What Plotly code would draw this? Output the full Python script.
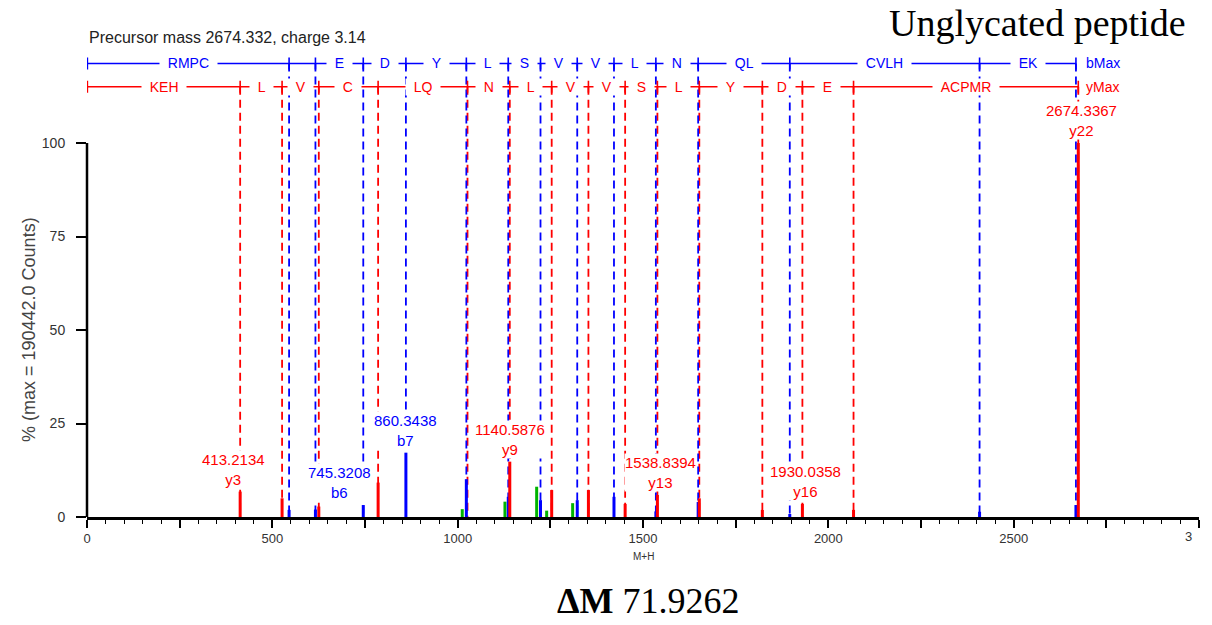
import plotly.graph_objects as go

# ---- fragment ladders (m/z boundaries, residues between consecutive boundaries)
b_mz = [1.0, 545.2, 616.3, 745.3208, 860.3438, 1023.4, 1136.5, 1223.5, 1322.6,
        1421.7, 1534.7, 1648.8, 1896.0, 2408.0, 2668.0]
b_res = ["RMPC", "", "E", "D", "Y", "L", "S", "V", "V", "L", "N", "QL", "CVLH", "EK"]

y_mz = [1.0, 413.2134, 526.29, 625.36, 785.39, 1026.53, 1140.5876, 1253.67, 1352.74,
        1451.81, 1538.8394, 1651.92, 1822.0, 1930.0358, 2068.0, 2674.3367]
y_res = ["KEH", "L", "V", "C", "LQ", "N", "L", "V", "V", "S", "L", "Y", "D", "E", "ACPMR"]

# ---- observed peaks (% of max = 190442.0 counts)
b_peak_mz = [545.2, 616.3, 745.3208, 860.3438, 1023.4, 1136.5, 1223.5, 1322.6,
             1421.7, 1534.7, 1648.8, 1896.0, 2408.0, 2668.0]
b_peak_int = [1.9, 2.0, 3.2, 17.2, 10.1, 5.4, 4.5, 4.5, 5.4, 1.5, 4.0, 0.8, 1.4, 3.2]

y_peak_mz = [413.2134, 526.29, 625.36, 785.39, 1140.5876, 1253.67, 1352.74, 1451.81,
             1538.8394, 1651.92, 1822.0, 1930.0358, 2068.0, 2674.3367]
y_peak_int = [6.8, 5.0, 2.8, 9.2, 14.8, 7.2, 7.2, 3.5, 5.9, 5.0, 1.9, 3.5, 1.9, 100.0]

other_mz = [1012.4, 1127.6, 1213.1, 1240.1, 1310.2]
other_int = [2.1, 4.1, 8.1, 1.7, 3.7]

# ---- annotated peaks: (m/z, ion name, horizontal label offset in px)
lab_mz = [413.2134, 745.3208, 860.3438, 1140.5876, 1538.8394, 1930.0358, 2674.3367]
lab_ion = ["y3", "b6", "b7", "y9", "y13", "y16", "y22"]
lab_dx = [-7, -24, 0, 0, 3, 3, 3]

x_ticks = list(range(0, 3001, 250))
y_ticks = [0, 25, 50, 75, 100]

BLUE = "#0000ff"
RED = "#ff0000"
GREEN = "#00b400"
FONT = "Liberation Sans, Arial, sans-serif"
SERIF = "Liberation Serif, Times New Roman, serif"

Y_TOP = 127.54      # axis headroom for the ladders above 100 %
B_ROW = 121.26
Y_ROW = 115.05
TICK_H = 1.6


def stems(mzs, ints):
    xs, ys = [], []
    for m, v in zip(mzs, ints):
        xs += [m, m, None]
        ys += [0, v, None]
    return xs, ys


def drops(mzs, top):
    xs, ys = [], []
    for m in mzs:
        xs += [m, m, None]
        ys += [top, 0, None]
    return xs, ys


def ladder(mzs, row):
    xs = [mzs[0], mzs[-1], None]
    ys = [row, row, None]
    for m in mzs:
        xs += [m, m, None]
        ys += [row - TICK_H, row + TICK_H, None]
    return xs, ys


fig = go.Figure()

# dashed guide lines from the ladders down to the baseline
for mzs, row, col in [(y_mz[1:], Y_ROW, RED), (b_mz[1:], B_ROW, BLUE)]:
    xs, ys = drops(mzs, row)
    fig.add_trace(go.Scatter(x=xs, y=ys, mode="lines", hoverinfo="skip",
                             line=dict(color=col, width=1.8, dash="8px,5px")))

# ladder rows
for mzs, row, col in [(b_mz, B_ROW, BLUE), (y_mz, Y_ROW, RED)]:
    xs, ys = ladder(mzs, row)
    fig.add_trace(go.Scatter(x=xs, y=ys, mode="lines", hoverinfo="skip",
                             line=dict(color=col, width=1.6)))

# peak sticks
for mzs, ints, col in [(other_mz, other_int, GREEN), (b_peak_mz, b_peak_int, BLUE),
                       (y_peak_mz, y_peak_int, RED)]:
    xs, ys = stems(mzs, ints)
    fig.add_trace(go.Scatter(x=xs, y=ys, mode="lines", hoverinfo="skip",
                             line=dict(color=col, width=3)))

ann = []
NB = "\u00a0\u00a0"
# residue labels on the ladders
for mzs, res, row, col in [(b_mz, b_res, B_ROW, BLUE), (y_mz, y_res, Y_ROW, RED)]:
    for i, r in enumerate(res):
        if not r:
            continue
        ann.append(dict(x=(mzs[i] + mzs[i + 1]) / 2, y=row, xref="x", yref="y",
                        text=NB + r + NB, showarrow=False, bgcolor="white",
                        borderpad=0, font=dict(family=FONT, size=14, color=col)))
ann.append(dict(x=b_mz[-1], y=B_ROW, xref="x", yref="y", text="bMax", showarrow=False,
                xanchor="left", xshift=8, font=dict(family=FONT, size=14, color=BLUE)))
ann.append(dict(x=y_mz[-1], y=Y_ROW, xref="x", yref="y", text="yMax", showarrow=False,
                xanchor="left", xshift=6, font=dict(family=FONT, size=14, color=RED)))

# m/z labels over annotated peaks
for m, ion, dx in zip(lab_mz, lab_ion, lab_dx):
    if ion.startswith("b"):
        h = b_peak_int[b_peak_mz.index(m)]
        col = BLUE
    else:
        h = y_peak_int[y_peak_mz.index(m)]
        col = RED
    ann.append(dict(x=m, y=h, xref="x", yref="y", text=f"{m:.4f}<br>{ion}",
                    showarrow=False, xanchor="center", yanchor="bottom",
                    xshift=dx, yshift=3, bgcolor="white", borderpad=0,
                    font=dict(family=FONT, size=15, color=col)))

# titles and axis captions
ann += [
    dict(x=0, y=1, xref="paper", yref="paper", xanchor="left", yanchor="middle",
         yshift=3, text="Precursor mass 2674.332, charge 3.14", showarrow=False,
         font=dict(family=FONT, size=16, color="#222222")),
    dict(x=(1188 - 87) / 1112, y=1, xref="paper", yref="paper", xanchor="right",
         yanchor="middle", yshift=17, text="Unglycated peptide", showarrow=False,
         font=dict(family=SERIF, size=38, color="black")),
    dict(x=(648 - 87) / 1112, y=0, xref="paper", yref="paper", xanchor="center",
         yanchor="middle", yshift=-84, borderpad=0, text="<b>\u0394M</b> 71.9262",
         showarrow=False, font=dict(family=SERIF, size=36, color="black")),
    dict(x=0.5, y=0, xref="paper", yref="paper", yanchor="middle", yshift=-39,
         text="M+H", showarrow=False, font=dict(family=FONT, size=10, color="#333333")),
    dict(x=(17 - 87) / 1112, y=50, xref="paper", yref="y", textangle=-90,
         text="% (max = 190442.0 Counts)", showarrow=False,
         font=dict(family=FONT, size=18, color="#444444")),
    dict(x=3000, y=0, xref="x", yref="paper", xanchor="center", yanchor="top",
         xshift=-11, yshift=-10, text="3", showarrow=False,
         font=dict(family=FONT, size=13, color="#333333")),
]

tick_text = [str(v) if (v % 500 == 0 and v < 3000) else "" for v in x_ticks]

fig.update_layout(
    width=1212, height=625,
    margin=dict(l=87, r=13, t=40, b=108),
    paper_bgcolor="white", plot_bgcolor="white",
    showlegend=False,
    font=dict(family=FONT, color="#333333"),
    annotations=ann,
    shapes=[dict(type="line", xref="paper", yref="y", x0=0, x1=0, y0=0, y1=100,
                 line=dict(color="black", width=2.5))],
    xaxis=dict(range=[0, 3000], tickmode="array", tickvals=x_ticks, ticktext=tick_text,
               ticks="outside", ticklen=8, tickwidth=1.5, tickcolor="black",
               minor=dict(dtick=50, tick0=0, ticks="outside", ticklen=4, tickwidth=1,
                          tickcolor="black"),
               showline=True, linewidth=2.5, linecolor="black", showgrid=False,
               zeroline=False, tickfont=dict(size=13, color="#333333"), fixedrange=True),
    yaxis=dict(range=[0, Y_TOP], tickmode="array", tickvals=y_ticks,
               ticks="outside", ticklen=10, tickwidth=2, tickcolor="black",
               ticklabelstandoff=8,
               showline=False, showgrid=False, zeroline=False,
               tickfont=dict(size=14, color="#333333"), fixedrange=True),
)

fig.write_html("out.html")
